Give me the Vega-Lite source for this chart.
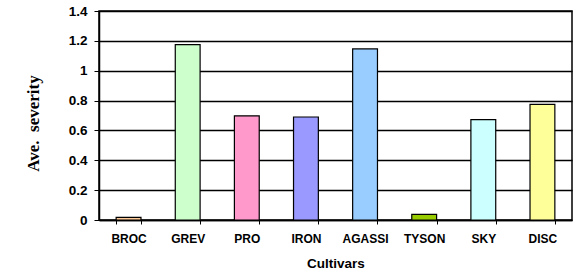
{
  "$schema": "https://vega.github.io/schema/vega-lite/v6.json",
  "width": 473,
  "height": 209,
  "autosize": {"type": "none"},
  "padding": {"left": 99, "top": 11, "right": 6, "bottom": 52},
  "background": "white",
  "config": {
    "view": {"stroke": "black", "strokeWidth": 1.5},
    "axis": {"labelFont": "Liberation Sans", "titleFont": "Liberation Sans", "labelColor": "black", "titleColor": "black"}
  },
  "data": {
    "values": [
      {"cultivar": "BROC", "severity": 0.018, "color": "#FFCC99"},
      {"cultivar": "GREV", "severity": 1.175, "color": "#CCFFCC"},
      {"cultivar": "PRO", "severity": 0.698, "color": "#FF99CC"},
      {"cultivar": "IRON", "severity": 0.69, "color": "#9999FF"},
      {"cultivar": "AGASSI", "severity": 1.146, "color": "#99CCFF"},
      {"cultivar": "TYSON", "severity": 0.038, "color": "#99CC00"},
      {"cultivar": "SKY", "severity": 0.673, "color": "#CCFFFF"},
      {"cultivar": "DISC", "severity": 0.774, "color": "#FFFF99"}
    ]
  },
  "mark": {"type": "bar", "stroke": "black", "strokeWidth": 1.2},
  "encoding": {
    "x": {
      "field": "cultivar",
      "type": "nominal",
      "sort": null,
      "scale": {"paddingInner": 0.58, "paddingOuter": 0.29},
      "axis": {
        "title": "Cultivars",
        "titleFontSize": 13.5,
        "titleFontWeight": "bold",
        "titleBaseline": "middle",
        "titleY": 43,
        "labelAngle": 0,
        "labelFontSize": 12,
        "labelFontWeight": "bold",
        "labelPadding": 9,
        "tickBand": "extent",
        "tickSize": 4,
        "tickColor": "black",
        "domainColor": "black",
        "domainWidth": 1.5
      }
    },
    "y": {
      "field": "severity",
      "type": "quantitative",
      "scale": {"domain": [0, 1.4], "nice": false},
      "axis": {
        "title": "Ave.\u00a0 severity",
        "titleFont": "Liberation Serif",
        "titleFontSize": 17,
        "titleFontWeight": "bold",
        "titleAngle": -90,
        "titleAlign": "center",
        "titleBaseline": "middle",
        "titleX": -66,
        "titleY": 112,
        "values": [0, 0.2, 0.4, 0.6, 0.8, 1, 1.2, 1.4],
        "labelExpr": "datum.value",
        "labelFontSize": 13.5,
        "labelFontWeight": "bold",
        "labelPadding": 7,
        "tickSize": 5,
        "tickColor": "black",
        "domainColor": "black",
        "domainWidth": 1.5,
        "grid": true,
        "gridColor": "black",
        "gridOpacity": 1,
        "gridWidth": 1.5
      }
    },
    "fill": {"field": "color", "type": "nominal", "scale": null, "legend": null}
  }
}
